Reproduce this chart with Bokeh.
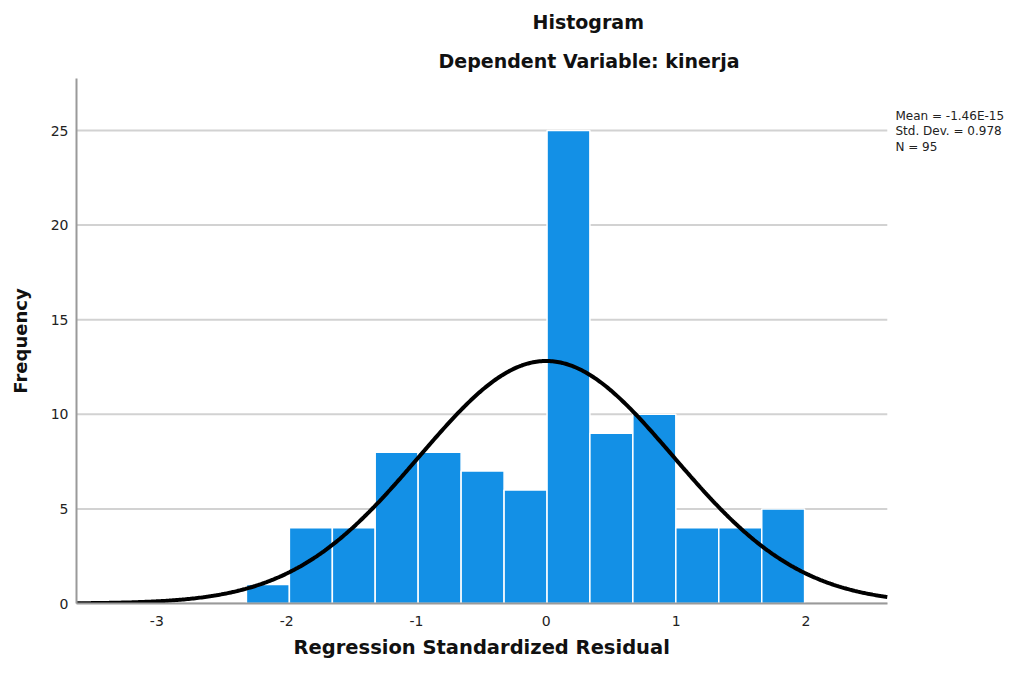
import numpy as np
from bokeh.plotting import figure
from bokeh.models import Range1d, Title, Label
from bokeh.embed import file_html
from bokeh.resources import INLINE

# ---- data ----
bin_edges = [-2.310, -1.979, -1.648, -1.318, -0.987, -0.656, -0.325,
             0.006, 0.336, 0.667, 0.998, 1.329, 1.660, 1.990]
counts = [1, 4, 4, 8, 8, 7, 6, 25, 9, 10, 4, 4, 5]
x_ticks = [-3, -2, -1, 0, 1, 2]
y_ticks = [0, 5, 10, 15, 20, 25]
stat_mean = -1.46e-15
stat_sd = 0.978
stat_n = 95
stats_lines = ["Mean = -1.46E-15", "Std. Dev. = 0.978", "N = 95"]
title_main = "Histogram"
title_sub = "Dependent Variable: kinerja"
x_label = "Regression Standardized Residual"
y_label = "Frequency"

# plotted axis extent (x) and value axis extent (y)
x_lo, x_end = -3.619, 2.627
y_lo, y_hi = 0, 27.75
# the frame also covers the statistics area on the right
x_frame_hi = 3.530

FONT = "DejaVu Sans"
BAR = "#1390e6"
GRID = "#d2d2d2"
TXT = "#111111"

p = figure(width=1004, height=664, output_backend="svg", toolbar_location=None,
           title=None,
           x_range=Range1d(x_lo, x_frame_hi), y_range=Range1d(y_lo, y_hi),
           min_border_left=76, min_border_right=0,
           min_border_top=78, min_border_bottom=61)
p.outline_line_color = None
p.background_fill_color = "white"
p.border_fill_color = "white"

# horizontal grid lines, limited to the plotted x extent
p.segment(x0=[x_lo] * len(y_ticks), x1=[x_end] * len(y_ticks), y0=y_ticks, y1=y_ticks,
          line_color=GRID, line_width=2)

p.quad(left=bin_edges[:-1], right=bin_edges[1:], bottom=0, top=counts,
       fill_color=BAR, line_color="white", line_width=1.5)

# normal curve from the reported statistics
xs = np.linspace(x_lo, x_end, 500)
bw = (bin_edges[-1] - bin_edges[0]) / len(counts)
ys = stat_n * bw / (stat_sd * np.sqrt(2 * np.pi)) * np.exp(-0.5 * ((xs - stat_mean) / stat_sd) ** 2)
p.line(xs, ys, line_color="black", line_width=4)

# axes
p.xaxis.ticker = x_ticks
p.yaxis.ticker = y_ticks
p.xaxis.major_label_overrides = {t: str(t) for t in x_ticks}
p.xaxis.bounds = (x_lo, x_end)
for ax in (p.xaxis[0], p.yaxis[0]):
    ax.major_tick_line_color = None
    ax.minor_tick_line_color = None
    ax.major_tick_out = 0
    ax.major_tick_in = 0
    ax.minor_tick_out = 0
    ax.minor_tick_in = 0
    ax.axis_line_color = "#9a9a9a"
    ax.axis_line_width = 2
    ax.major_label_text_font = FONT
    ax.major_label_text_font_size = "14px"
    ax.major_label_text_color = "#222222"

p.xaxis.major_label_standoff = 12

p.yaxis.axis_label = y_label
p.yaxis.axis_label_text_font = FONT
p.yaxis.axis_label_text_font_style = "bold"
p.yaxis.axis_label_text_color = TXT
p.yaxis.axis_label_text_font_size = "18px"
p.yaxis.major_label_standoff = 8
p.yaxis.axis_label_standoff = 17

p.xgrid.grid_line_color = None
p.ygrid.grid_line_color = None

# x axis title, placed under the plotted x extent
p.add_layout(Title(text=x_label, align="left", offset=217, standoff=10,
                   text_font=FONT, text_font_style="bold", text_font_size="19.5px",
                   text_color=TXT), "below")

# titles (first added sits closest to the frame)
p.add_layout(Title(text=title_sub, align="left", offset=362, standoff=14,
                   text_font=FONT, text_font_style="bold", text_font_size="19px",
                   text_color=TXT), "above")
p.add_layout(Title(text=title_main, align="left", offset=456, standoff=16,
                   text_font=FONT, text_font_style="bold", text_font_size="19px",
                   text_color=TXT), "above")

# statistics text block at the right
for i, t in enumerate(stats_lines):
    p.add_layout(Label(x=2.69, y=25.79, y_offset=-15.5 * i, text=t,
                       text_align="left", text_baseline="middle",
                       text_font=FONT, text_font_size="12px", text_color="#222222"))

open("out.html", "w").write(file_html(p, INLINE))
